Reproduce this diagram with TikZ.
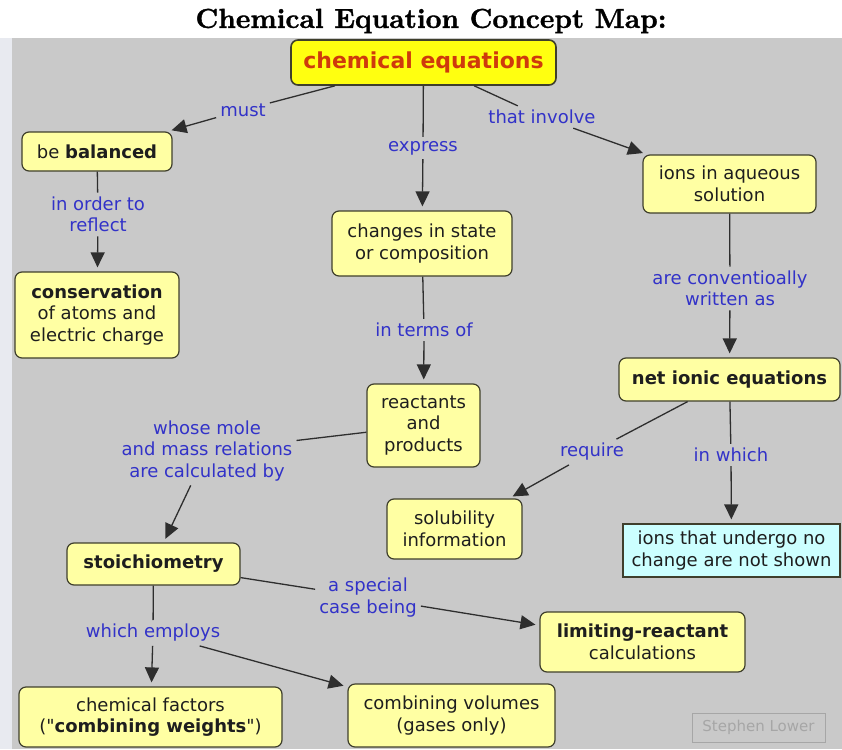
\documentclass[tikz,border=0pt]{standalone}
\usepackage{fontspec}
\setsansfont{DejaVu Sans}
\newfontfamily\titlefont{lmroman10-bold.otf}[FakeBold=1.2]
\usetikzlibrary{arrows.meta}

\definecolor{bggray}{HTML}{C9C9C9}
\definecolor{edgestrip}{HTML}{E8EAF0}
\definecolor{boxfill}{HTML}{FFFFA3}
\definecolor{boxline}{HTML}{3F3F2C}
\definecolor{boxtext}{HTML}{1E1E1E}
\definecolor{topfill}{HTML}{FFFF10}
\definecolor{topred}{HTML}{CF3A0C}
\definecolor{linkblue}{HTML}{3232C8}
\definecolor{lineclr}{HTML}{2E2E2E}
\definecolor{ionfill}{HTML}{CCFFFF}
\definecolor{signgray}{HTML}{A6A6A6}

\begin{document}
\begin{tikzpicture}[x=1pt,y=-1pt,
    concept/.style={draw=boxline, line width=1.2pt, fill=boxfill, rounded corners=7pt,
      align=center, text=boxtext, inner sep=0pt,
      font=\sffamily\fontsize{18}{21.5}\selectfont},
    topconcept/.style={concept, fill=topfill, text=topred, line width=1.6pt,
      font=\sffamily\bfseries\fontsize{22}{26}\selectfont},
    linkword/.style={text=linkblue, align=center, inner sep=4pt,
      font=\sffamily\fontsize{18}{21.5}\selectfont},
    cline/.style={draw=lineclr, line width=1.3pt},
    carrow/.style={cline, -{Triangle[length=15pt,width=14pt]}, shorten >=4pt}]

  \useasboundingbox (0,0) rectangle (842,749);
  % page background
  \fill[edgestrip] (0,38) rectangle (12,749);
  \fill[bggray] (12,38) rectangle (842,749);

  \node[font=\titlefont\fontsize{27.5}{30}\selectfont] (title) at (431,21) {Chemical Equation Concept Map:};

  % concepts
  \node[topconcept, minimum width=265pt, minimum height=45pt] (cheq) at (423.5,62.5) {chemical equations};
  \node[concept, minimum width=150pt, minimum height=39pt] (bal) at (97,151.5) {be \textbf{balanced}};
  \node[concept, minimum width=164pt, minimum height=86pt] (cons) at (97,315) {\textbf{conservation}\\of atoms and\\electric charge};
  \node[concept, minimum width=180pt, minimum height=65pt] (chg) at (422,243.5) {changes in state\\or composition};
  \node[concept, minimum width=173pt, minimum height=58pt] (ions) at (729.5,184) {ions in aqueous\\solution};
  \node[concept, minimum width=221pt, minimum height=43pt] (net) at (729.5,379.5) {\textbf{net ionic equations}};
  \node[concept, minimum width=113pt, minimum height=83pt] (react) at (423.5,425.5) {reactants\\and\\products};
  \node[concept, minimum width=135pt, minimum height=60pt] (sol) at (454.5,529) {solubility\\information};
  \node[concept, fill=ionfill, rounded corners=0pt, minimum width=217pt, minimum height=53pt] (notsh) at (731.5,550.5) {ions that undergo no\\change are not shown};
  \node[concept, minimum width=173pt, minimum height=42pt] (stoi) at (153.5,564) {\textbf{stoichiometry}};
  \node[concept, minimum width=205pt, minimum height=60pt] (limit) at (642.5,642) {\textbf{limiting-reactant}\\calculations};
  \node[concept, minimum width=263pt, minimum height=60pt] (factors) at (150.5,717) {chemical factors\\(\textquotedbl\textbf{combining weights}\textquotedbl)};
  \node[concept, minimum width=207pt, minimum height=63pt] (vol) at (451.5,715.5) {combining volumes\\(gases only)};
  \node[draw=signgray, line width=1pt, text=signgray, minimum width=133pt, minimum height=29pt,
    font=\sffamily\fontsize{15}{18}\selectfont] (sign) at (758.5,727.5) {Stephen Lower};

  % linking words
  \node[linkword] (must) at (243,110) {must};
  \node[linkword] (order) at (98,214.5) {in order to\\reflect};
  \node[linkword] (express) at (423,148) {express};
  \node[linkword] (involve) at (542,117) {that involve};
  \node[linkword] (interms) at (424,330) {in terms of};
  \node[linkword] (conv) at (730,288.5) {are conventioally\\written as};
  \node[linkword] (whose) at (207,451) {whose mole\\and mass relations\\are calculated by};
  \node[linkword] (require) at (592,452) {require};
  \node[linkword] (inwhich) at (731,455) {in which};
  \node[linkword] (special) at (368,597.5) {a special\\case being};
  \node[linkword] (employs) at (153,633) {which employs};

  % connections
  \draw[cline] (cheq) -- (must);
  \draw[carrow] (must) -- (bal);
  \draw[cline] (bal) -- (order);
  \draw[carrow] (order) -- (cons);
  \draw[cline] (cheq) -- (express);
  \draw[carrow] (express) -- (chg);
  \draw[cline] (chg) -- (interms);
  \draw[carrow] (interms) -- (react);
  \draw[cline] (cheq) -- (involve);
  \draw[carrow] (involve) -- (ions);
  \draw[cline] (ions) -- (conv);
  \draw[carrow] (conv) -- (net);
  \draw[cline] (react) -- (whose);
  \draw[carrow] (whose) -- (stoi);
  \draw[cline] (net) -- (require);
  \draw[carrow] (require) -- (sol);
  \draw[cline] (net) -- (inwhich);
  \draw[carrow] (inwhich) -- (notsh);
  \draw[cline] (stoi) -- (special);
  \draw[carrow] (special) -- (limit);
  \draw[cline] (stoi) -- (employs);
  \draw[carrow] (employs) -- (factors);
  \draw[carrow] (employs) -- (vol);
\end{tikzpicture}
\end{document}
